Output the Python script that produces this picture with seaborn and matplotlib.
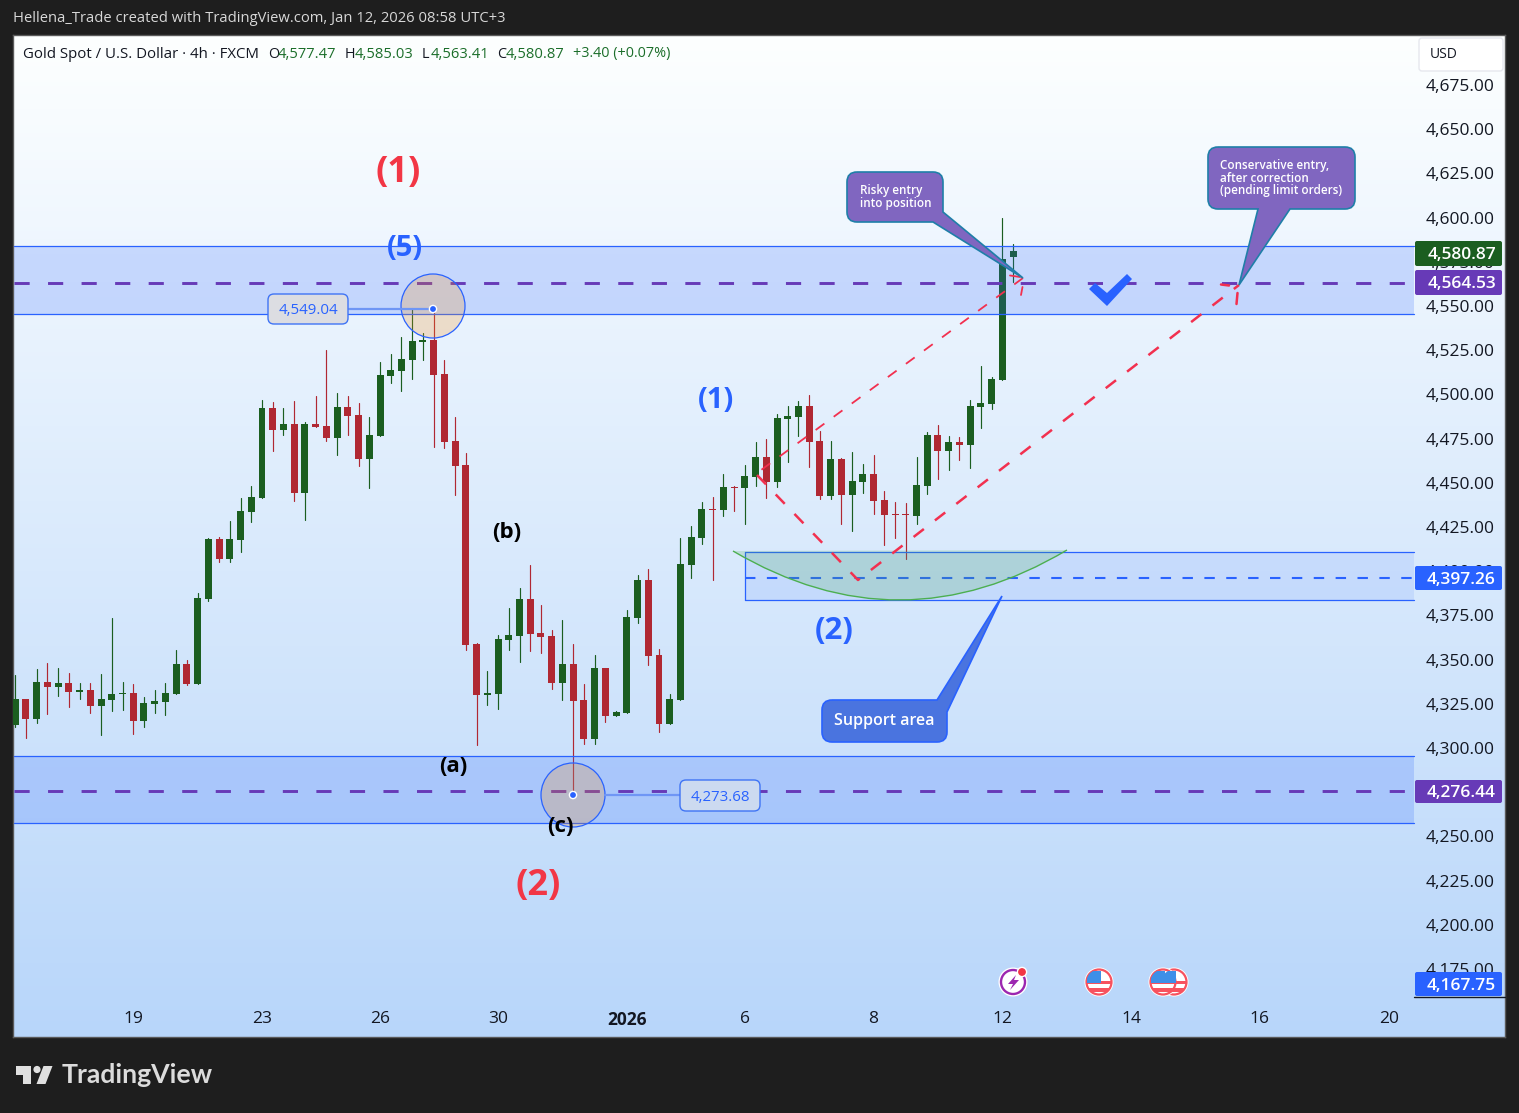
import numpy as np
import pandas as pd
import seaborn as sns
import matplotlib
matplotlib.use("Agg")
import matplotlib.pyplot as plt
from matplotlib.colors import LinearSegmentedColormap
from matplotlib.patches import Circle, FancyBboxPatch, PathPatch, Polygon, Rectangle
from matplotlib.path import Path

# 4h candles
opens = [4313.0, 4327.7, 4316.4, 4337.3, 4334.5, 4336.7, 4331.6, 4332.8, 4323.7, 4327.1,
         4330.5, 4331.1, 4315.2, 4324.9, 4326.0, 4330.5, 4347.5, 4336.2, 4384.2, 4418.2,
         4406.9, 4417.6, 4433.5, 4441.4, 4492.3, 4479.8, 4483.2, 4444.2, 4483.3, 4482.1,
         4475.3, 4492.9, 4488.4, 4463.5, 4476.5, 4510.4, 4513.2, 4519.4, 4529.6, 4530.8,
         4511.5, 4473.6, 4460.1, 4358.9, 4330.0, 4330.6, 4361.1, 4363.4, 4384.3, 4365.1,
         4363.4, 4336.8, 4347.5, 4327.2, 4305.1, 4345.3, 4318.1, 4319.8, 4373.6, 4395.1,
         4352.6, 4313.6, 4327.2, 4403.5, 4418.8, 4435.2, 4434.6, 4447.6, 4447.0, 4453.3,
         4464.6, 4450.5, 4486.1, 4487.2, 4493.4, 4473.6, 4442.5, 4463.5, 4443.1, 4450.5,
         4455.0, 4440.3, 4432.4, 4432.4, 4431.2, 4448.2, 4477.0, 4468.0, 4473.1, 4471.4,
         4492.8, 4494.5, 4508.1, 4577.47]
closes = [4327.7, 4316.4, 4337.3, 4334.5, 4336.7, 4331.6, 4332.8, 4323.7, 4327.7, 4330.5,
          4331.1, 4315.2, 4325.4, 4326.6, 4331.1, 4347.5, 4336.2, 4384.8, 4418.2, 4406.9,
          4418.2, 4434.0, 4441.9, 4492.3, 4479.8, 4483.2, 4444.2, 4483.3, 4481.5, 4475.3,
          4492.9, 4487.8, 4463.5, 4477.0, 4511.0, 4513.8, 4520.0, 4530.2, 4530.8, 4511.0,
          4473.1, 4459.5, 4358.3, 4330.0, 4331.1, 4361.7, 4363.9, 4384.3, 4364.5, 4362.8,
          4336.8, 4347.5, 4326.6, 4305.1, 4345.3, 4318.1, 4320.4, 4374.1, 4395.1, 4352.1,
          4313.6, 4327.7, 4404.1, 4419.4, 4435.2, 4434.7, 4447.6, 4447.0, 4453.9, 4464.6,
          4450.5, 4486.6, 4487.8, 4493.4, 4473.1, 4442.5, 4463.5, 4443.1, 4451.0, 4455.0,
          4439.7, 4431.8, 4431.8, 4431.8, 4448.8, 4477.0, 4468.0, 4473.1, 4471.4, 4493.4,
          4495.1, 4508.7, 4576.6, 4580.87]
highs = [4341.3, 4327.7, 4344.7, 4348.0, 4345.2, 4342.4, 4336.7, 4336.7, 4341.8, 4373.5,
         4337.3, 4336.2, 4328.8, 4332.8, 4336.7, 4355.4, 4349.7, 4387.6, 4418.7, 4419.3,
         4428.4, 4441.4, 4448.2, 4496.8, 4495.7, 4492.3, 4496.2, 4484.4, 4499.1, 4525.1,
         4500.8, 4499.1, 4495.1, 4487.2, 4518.3, 4522.8, 4532.4, 4548.9, 4534.7, 4549.04,
         4519.4, 4487.2, 4466.9, 4359.4, 4343.6, 4363.9, 4379.2, 4390.5, 4403.5, 4380.9,
         4366.8, 4372.4, 4358.9, 4336.2, 4352.6, 4345.3, 4321.0, 4378.1, 4397.9, 4401.3,
         4356.0, 4330.6, 4418.8, 4425.6, 4439.2, 4442.0, 4455.0, 4448.2, 4460.1, 4473.1,
         4474.8, 4488.9, 4493.4, 4496.3, 4499.7, 4479.3, 4473.6, 4464.0, 4467.4, 4460.6,
         4465.7, 4445.4, 4439.1, 4438.6, 4464.6, 4478.7, 4482.7, 4476.5, 4475.9, 4496.8,
         4516.1, 4509.8, 4599.8, 4585.03]
lows = [4312.0, 4305.8, 4314.3, 4319.2, 4329.4, 4323.2, 4327.7, 4319.8, 4307.3, 4320.9,
        4321.5, 4307.9, 4311.9, 4319.8, 4318.6, 4330.5, 4335.6, 4336.2, 4383.1, 4405.2,
        4405.2, 4410.8, 4427.8, 4441.4, 4468.0, 4477.0, 4439.7, 4429.0, 4481.5, 4473.6,
        4465.7, 4477.0, 4459.5, 4447.0, 4476.5, 4506.4, 4501.9, 4508.7, 4519.4, 4470.2,
        4469.7, 4443.1, 4355.5, 4301.7, 4324.4, 4322.1, 4355.5, 4348.7, 4354.9, 4353.8,
        4333.4, 4327.2, 4273.68, 4302.3, 4302.3, 4314.7, 4318.1, 4319.8, 4370.7, 4347.0,
        4309.1, 4313.6, 4327.2, 4396.2, 4415.4, 4395.1, 4431.2, 4434.1, 4426.7, 4448.2,
        4441.4, 4447.6, 4461.8, 4476.5, 4459.0, 4440.8, 4440.8, 4426.7, 4422.7, 4444.2,
        4432.4, 4414.8, 4418.8, 4406.9, 4426.7, 4443.7, 4452.2, 4457.2, 4462.9, 4458.4,
        4481.0, 4491.7, 4508.1, 4563.41]

price_ticks = [4675, 4650, 4625, 4600, 4575, 4550, 4525, 4500, 4475, 4450, 4425, 4400,
               4375, 4350, 4325, 4300, 4275, 4250, 4225, 4200, 4175]
date_ticks = [11, 23, 34, 45, 57, 68, 80, 92, 104, 116, 128]
date_labels = ["19", "23", "26", "30", "2026", "6", "8", "12", "14", "16", "20"]

FONT = "Open Sans"
DARK = "#1e1e1e"
GREEN = "#1b5e20"
RED = "#b02833"
BLUE = "#2962ff"
PURPLE = "#673ab7"
DASH_RED = "#f2304f"
BOX_PURPLE = "#8066c0"

sns.set_style("white")
plt.rcParams["font.family"] = [FONT, "DejaVu Sans"]

W, H = 1519, 1113
fig = plt.figure(figsize=(W / 100, H / 100), dpi=100, facecolor=DARK)
ax = fig.add_axes([13 / W, (H - 1037) / H, 1492 / W, 1002 / H])

# background gradient
bg = LinearSegmentedColormap.from_list("bg", ["#fdffff", "#b8d6fa"])
ax.imshow(np.linspace(0, 1, 256).reshape(-1, 1), cmap=bg, aspect="auto",
          extent=(0, 1, 0, 1), transform=ax.transAxes, zorder=0)

df = pd.DataFrame({"idx": range(len(opens)), "o": opens, "c": closes, "h": highs, "l": lows})
df["up"] = df.c >= df.o
df["body_low"] = df[["o", "c"]].min(axis=1)
df["body"] = (df.c - df.o).abs().clip(lower=0.6)

wicks = pd.concat([df[["idx", "up"]].assign(price=df.l), df[["idx", "up"]].assign(price=df.h)])
sns.lineplot(data=wicks, x="idx", y="price", hue="up", units="idx", estimator=None,
             palette={True: GREEN, False: RED}, linewidth=0.85, legend=False, sort=False,
             ax=ax, zorder=2)
for is_up, col in [(True, GREEN), (False, RED)]:
    part = df[df.up == is_up]
    sns.barplot(x=part.idx.values, y=part.body.values, bottom=part.body_low.values,
                native_scale=True, width=0.65, color=col, saturation=1, errorbar=None,
                linewidth=0, ax=ax, zorder=3)

# px -> data: x = 15.2 + 10.73 * i, y = 85 + (4675 - p) * 1.768
ax.set_xlim((13 - 15.2) / 10.73, (1505 - 15.2) / 10.73)
ax.set_ylim(4675 - (1037 - 85) / 1.768, 4675 + (85 - 35) / 1.768)
ax.yaxis.tick_right()
ax.set_yticks(price_ticks)
ax.set_yticklabels([f"{p:,.2f}" for p in price_ticks])
ax.set_xticks(date_ticks)
ax.set_xticklabels(date_labels)
ax.get_xticklabels()[4].set_fontweight("bold")
ax.tick_params(axis="y", length=0, pad=-57, labelsize=12.5, labelcolor="#131722")
ax.tick_params(axis="x", length=0, pad=-19, labelsize=12.5, labelcolor="#131722")
ax.set_xlabel("")
ax.set_ylabel("")
for s in ax.spines.values():
    s.set_color("#5a5a5a")
    s.set_linewidth(1)

# everything drawn on the chart goes on a pixel overlay
px = fig.add_axes([0, 0, 1, 1], zorder=5)
px.set_xlim(0, W)
px.set_ylim(H, 0)
px.axis("off")
px.patch.set_alpha(0)


def label(x, y, txt, **kw):
    # Open Sans sits about 2px high with va=center
    kw.setdefault("va", "center")
    kw.setdefault("zorder", 9)
    px.text(x, y + 2, txt, **kw)


def callout(x0, y0, x1, y1, tail, side, fc, ec, r=10):
    verts = [(x0 + r, y0)]
    codes = [Path.MOVETO]
    if side == "tr":
        verts += tail
        codes += [Path.LINETO] * len(tail)
    else:
        verts += [(x1 - r, y0), (x1, y0), (x1, y0 + r)]
        codes += [Path.LINETO, Path.CURVE3, Path.CURVE3]
    if side == "br":
        verts += tail
        codes += [Path.LINETO] * len(tail)
    else:
        verts += [(x1, y1 - r), (x1, y1), (x1 - r, y1)]
        codes += [Path.LINETO, Path.CURVE3, Path.CURVE3]
    if side == "bottom":
        verts += tail
        codes += [Path.LINETO] * len(tail)
    verts += [(x0 + r, y1), (x0, y1), (x0, y1 - r), (x0, y0 + r), (x0, y0), (x0 + r, y0)]
    codes += [Path.LINETO, Path.CURVE3, Path.CURVE3, Path.LINETO, Path.CURVE3, Path.CURVE3]
    px.add_patch(PathPatch(Path(verts, codes), fc=fc, ec=ec, lw=1.2, zorder=8))


def band(y0, y1, x0=13.5, x1=1414, alpha=0.2):
    px.add_patch(Rectangle((x0, y0), x1 - x0, y1 - y0, fc=BLUE, alpha=alpha, lw=0, zorder=1))
    px.plot([x0, x1], [y0, y0], color=BLUE, lw=0.9, zorder=2)
    px.plot([x0, x1], [y1, y1], color=BLUE, lw=0.9, zorder=2)


def price_tag(y0, y1, text, col):
    px.add_patch(FancyBboxPatch((1416, y0 + 1), 85, y1 - y0 - 2, boxstyle="round,pad=1,rounding_size=2",
                                fc=col, lw=0, zorder=10))
    label(1461.5, (y0 + y1) / 2 - 0.5, text, color="white", fontsize=12.5, fontweight="semibold",
          ha="center", zorder=11)


def anchor_label(cx, cy, dot_y, line_x0, line_x1, box_x, box_y, box_w, box_h, text, box_fill):
    px.add_patch(Circle((cx, cy), 32, fc=(0.96, 0.57, 0.12, 0.23), ec=BLUE, lw=0.9, zorder=5))
    px.plot([line_x0, line_x1], [dot_y, dot_y], color="#6f96f5", lw=1.6, zorder=6)
    px.add_patch(FancyBboxPatch((box_x, box_y), box_w, box_h, boxstyle="round,pad=0,rounding_size=6",
                                fc=box_fill, ec="#3f74f5", lw=1, zorder=7))
    label(box_x + box_w / 2, box_y + box_h / 2, text, color=BLUE, fontsize=10.8, ha="center", zorder=8)
    px.add_patch(Circle((cx, dot_y), 3.6, fc=BLUE, ec="white", lw=1, zorder=8))


def flag_icon(cx, cy):
    ring = Circle((cx, cy), 12.5, fc="white", ec="#f7525f", lw=1.6, zorder=9)
    px.add_patch(Circle((cx, cy), 14.5, fc="white", lw=0, zorder=9))
    px.add_patch(ring)
    for sy in (cy - 1.5, cy + 6):
        s = Rectangle((cx - 12, sy), 24, 3.5, fc="#f7525f", lw=0, zorder=9.2)
        px.add_patch(s)
        s.set_clip_path(ring)
    c = Rectangle((cx - 12, cy - 11), 14, 12, fc="#3d8fe8", lw=0, zorder=9.3)
    px.add_patch(c)
    c.set_clip_path(ring)


band(246, 314)
band(756, 823)
px.plot([13.5, 1414], [282.5, 282.5], color=PURPLE, lw=2.1, ls=(0, (5.2, 6.3)), zorder=3)
px.plot([13.5, 1414], [791, 791], color=PURPLE, lw=2.1, ls=(0, (5.2, 6.3)), zorder=3)

# support area
band(552, 600, x0=745, alpha=0.1)
px.plot([745, 745], [552, 600], color=BLUE, lw=0.9, zorder=2)
px.plot([745, 1414], [578, 578], color=BLUE, lw=1.5, ls=(0, (5, 5.5)), zorder=3)
arc = Path([(733, 551), (900, 649.5), (1067, 550), (733, 551)],
           [Path.MOVETO, Path.CURVE3, Path.CURVE3, Path.CLOSEPOLY])
px.add_patch(PathPatch(arc, fc="#4caf50", alpha=0.2, lw=0, zorder=3))
arc_line = Path([(733, 551), (900, 649.5), (1067, 550)], [Path.MOVETO, Path.CURVE3, Path.CURVE3])
px.add_patch(PathPatch(arc_line, fc="none", ec="#4caf50", lw=1, zorder=3))

# red projected path: upper leg is a finer line than the other two
px.plot([1023, 757], [278, 473], color=DASH_RED, lw=1.3, ls=(0, (6, 6.4)), zorder=4)
px.plot([757, 858, 1239], [475, 580, 285], color=DASH_RED, lw=1.8, ls=(0, (5.2, 5.6)), zorder=4)
px.plot([1020, 1010], [277, 275.5], color=DASH_RED, lw=1.3, zorder=4)
px.plot([1022.5, 1021], [287, 295], color=DASH_RED, lw=1.3, zorder=4)
px.plot([1229, 1221], [285.5, 284.5], color=DASH_RED, lw=1.8, zorder=4)
px.plot([1237.5, 1236.5], [293, 304], color=DASH_RED, lw=1.8, zorder=4)

# check mark
px.add_patch(Polygon([(1089, 289), (1095, 283), (1107, 293), (1127, 274), (1132, 279), (1107, 306)],
                     fc=BLUE, lw=0, zorder=6))

anchor_label(433, 306, 309, 349, 430, 268, 294, 80, 30, "4,549.04", "#dcdde2")
anchor_label(573, 795, 795, 605, 680, 680, 780, 80, 31, "4,273.68", "#ccdaf0")

# wave labels
wave_labels = [("(1)", 398, 171, "#f23645", 26), ("(5)", 405, 246, BLUE, 21), ("(1)", 716, 398, BLUE, 21),
               ("(2)", 834, 629, BLUE, 22.5), ("(2)", 538, 884, "#f23645", 26), ("(a)", 453, 765, "black", 16),
               ("(b)", 507, 530, "black", 16), ("(c)", 560, 825, "black", 16)]
for txt, x, y, col, size in wave_labels:
    label(x, y, txt, color=col, fontsize=size, fontweight="bold", ha="center")

# callouts
callout(847, 172, 943, 222, [(943, 212), (1023, 278), (933, 222)], "br", BOX_PURPLE, "#1f7fa8")
label(860, 188.5, "Risky entry", color="white", fontsize=8.4, fontweight="semibold")
label(860, 201.5, "into position", color="white", fontsize=8.4, fontweight="semibold")
callout(1208, 147, 1355, 209, [(1290, 209), (1239, 285), (1258, 209)], "bottom", BOX_PURPLE, "#1f7fa8")
for txt, y in [("Conservative entry,", 163.5), ("after correction", 176), ("(pending limit orders)", 188.5)]:
    label(1220, y, txt, color="white", fontsize=8.4, fontweight="semibold")
callout(822, 700, 947, 742, [(937, 700), (1002, 596), (947, 712)], "tr", "#4a74df", BLUE)
label(884, 719, "Support area", color="white", fontsize=11.5, fontweight="semibold", ha="center")

# price axis tags
px.plot([1414, 1505], [997, 997], color="#131722", lw=1, zorder=6)
price_tag(241, 266, "4,580.87", GREEN)
price_tag(270, 295, "4,564.53", PURPLE)
price_tag(566, 590, "4,397.26", BLUE)
price_tag(780, 803, "4,276.44", PURPLE)
price_tag(972, 996, "4,167.75", BLUE)

px.add_patch(FancyBboxPatch((1419, 38), 84, 33, boxstyle="round,pad=0,rounding_size=3", fc="white",
                            ec="#e6e8ee", lw=1, zorder=9))
label(1430, 53, "USD", color="#131722", fontsize=10, zorder=10)

# legend line
label(23, 52, "Gold Spot / U.S. Dollar · 4h · FXCM", color="#131722", fontsize=10.8)
ohlc = [("O", 268, "4,577.47", 278), ("H", 345, "4,585.03", 355), ("L", 422, "4,563.41", 431),
        ("C", 497, "4,580.87", 506)]
for letter, lx, value, vx in ohlc:
    label(lx, 52, letter, color="#131722", fontsize=10.4)
    label(vx, 52, value, color="#1b6e2a", fontsize=10.6)
label(573, 52, "+3.40 (+0.07%)", color="#1b6e2a", fontsize=10.4)

# event icons
px.add_patch(Circle((1013, 982), 14.5, fc="white", lw=0, zorder=9))
px.add_patch(Circle((1013, 982), 12, fc="white", ec="#9c27b0", lw=1.7, zorder=9))
px.add_patch(Polygon([(1016, 975), (1008, 984), (1013, 984), (1010, 990), (1019, 980), (1014, 980)],
                     fc="#9c27b0", lw=0, zorder=9.2))
px.add_patch(Circle((1022, 972), 4.6, fc="#f23645", ec="white", lw=1, zorder=9.3))
flag_icon(1099, 982)
flag_icon(1174, 982)
flag_icon(1163, 982)

# header and footer
label(13, 17, "Hellena_Trade created with TradingView.com, Jan 12, 2026 08:58 UTC+3", color="#d8d8d8",
      fontsize=10.6)
px.add_patch(Polygon([(15.5, 1066), (31, 1066), (31, 1084), (23, 1084), (23, 1075), (15.5, 1075)], fc="#e0e0e0", lw=0))
px.add_patch(Circle((37, 1069.5), 3.6, fc="#e0e0e0", lw=0))
px.add_patch(Polygon([(43.5, 1066), (52.5, 1066), (45.5, 1084), (36.5, 1084)], fc="#e0e0e0", lw=0))
label(62, 1073, "TradingView", color="#dcdcdc", fontsize=19.2, fontweight="bold", family=["Lato", "DejaVu Sans"])

fig.savefig("out.png", dpi=100, facecolor=DARK)
